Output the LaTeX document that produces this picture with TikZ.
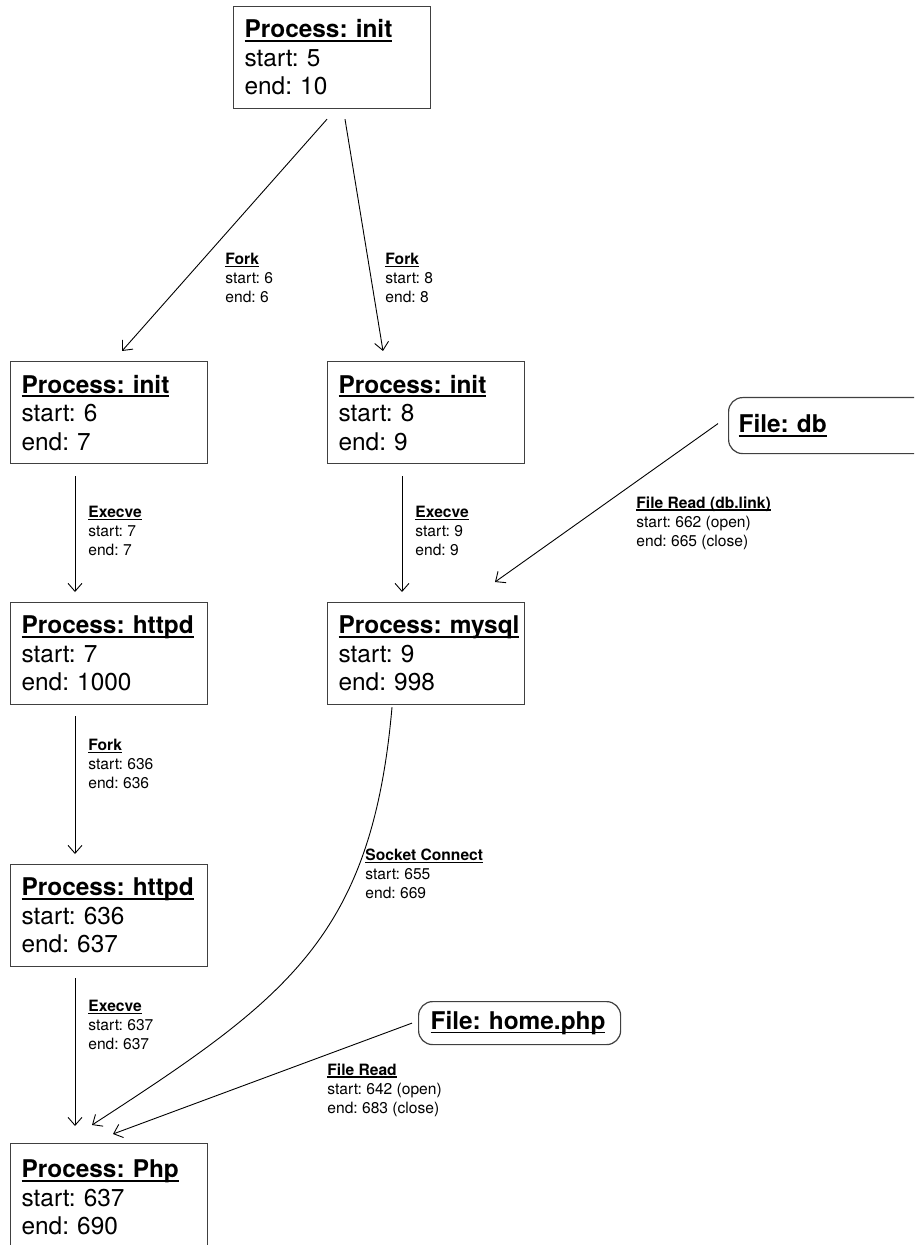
\documentclass[tikz,border=0pt]{standalone}
\usepackage{fontspec}
\setmainfont{TeX Gyre Heros}
\usetikzlibrary{arrows.meta}
\frenchspacing
\newsavebox{\ttlbox}
\newcommand{\ttl}[1]{\sbox{\ttlbox}{\textbf{#1}}\rlap{\rule[-0.16em]{\wd\ttlbox}{0.075em}}\usebox{\ttlbox}}
\begin{document}
\begin{tikzpicture}[x=0.5pt,y=-0.5pt]

    \tikzset{
      pbox/.style={
        draw=black!75,
        line width=0.6pt,
        anchor=north west,
        align=left,
        text width=87.5pt,
        inner xsep=5.5pt,
        inner ysep=0pt,
        minimum height=51pt,
        font=\fontsize{12.2}{14.25}\selectfont,
      },
      filebox/.style={pbox, rounded corners=7pt, text width=89pt, inner xsep=6pt},
      lbl/.style={anchor=north west, align=left, inner sep=0pt,
        font=\fontsize{7.8}{9.5}\selectfont},
      flow/.style={-{Straight Barb[length=4pt,width=7pt]}, line width=0.45pt},
    }
    \useasboundingbox (0,0) rectangle (914,1245);
    \clip (0,0) rectangle (914,1245);

	\node[pbox] (init1) at (233,6) {\ttl{Process: init}\\start: 5\\end: 10};
	\node[pbox] (init2) at (10,361) {\ttl{Process: init}\\start: 6\\end: 7};
	\node[pbox] (init3) at (327,361) {\ttl{Process: init}\\start: 8\\end: 9};
	\node[pbox] (httpd1) at (10,602) {\ttl{Process: httpd}\\start: 7\\end: 1000};
	\node[pbox] (mysql) at (327,602) {\ttl{Process: mysql}\\start: 9\\end: 998};
	\node[pbox] (httpd2) at (10,864) {\ttl{Process: httpd}\\start: 636\\end: 637};
	\node[pbox,minimum height=54pt] (php) at (10,1143) {\ttl{Process: Php}\\start: 637\\end: 690};
	\node[filebox,text width=90pt,inner xsep=5pt,minimum height=28pt] (db) at (728,397) {\ttl{File: db}};
	\node[filebox,minimum height=21.5pt] (home) at (418,1001) {\ttl{File: home.php}};

	\draw[flow] ([xshift=47pt,yshift=-5pt]init1.south west) -- ([xshift=56pt,yshift=5pt]init2.north west);
	\draw[flow] ([xshift=56pt,yshift=-5pt]init1.south west) -- ([xshift=28pt,yshift=5pt]init3.north west);
	\draw[flow] ([xshift=32.5pt,yshift=-6pt]init2.south west) -- ([xshift=32.5pt,yshift=5pt]httpd1.north west);
	\draw[flow] ([xshift=37.5pt,yshift=-6pt]init3.south west) -- ([xshift=37.5pt,yshift=5pt]mysql.north west);
	\draw[flow] ([xshift=-5pt,yshift=1pt]db.west) -- ([xshift=84pt,yshift=10pt]mysql.north west);
	\draw[flow] ([xshift=32.5pt,yshift=-5.5pt]httpd1.south west) -- ([xshift=32.5pt,yshift=5pt]httpd2.north west);
	\draw[flow] ([xshift=32.5pt,yshift=-5.5pt]httpd2.south west) -- ([xshift=32.5pt,yshift=8.5pt]php.north west);
	\draw[flow] ([xshift=32.5pt,yshift=-1pt]mysql.south west) to[out=-95,in=33,looseness=1.15] ([xshift=41pt,yshift=9pt]php.north west);
	\draw[flow] ([xshift=-3pt]home.west) -- ([xshift=51.5pt,yshift=4.5pt]php.north west);

	\node[lbl] (fork1) at (225,253) {\ttl{Fork}\\start: 6\\end: 6};
	\node[lbl] (fork2) at (385,253) {\ttl{Fork}\\start: 8\\end: 8};
	\node[lbl] (exec1) at (88,506) {\ttl{Execve}\\start: 7\\end: 7};
	\node[lbl] (exec2) at (415,506) {\ttl{Execve}\\start: 9\\end: 9};
	\node[lbl] (readdb) at (636,496) {\ttl{File Read (db.link)}\\start: 662 (open)\\end: 665 (close)};
	\node[lbl] (fork3) at (88,739) {\ttl{Fork}\\start: 636\\end: 636};
	\node[lbl] (sock) at (365,849) {\ttl{Socket Connect}\\start: 655\\end: 669};
	\node[lbl] (exec3) at (88,1000) {\ttl{Execve}\\start: 637\\end: 637};
	\node[lbl] (readhome) at (327,1063) {\ttl{File Read}\\start: 642 (open)\\end: 683 (close)};

\end{tikzpicture}
\end{document}
